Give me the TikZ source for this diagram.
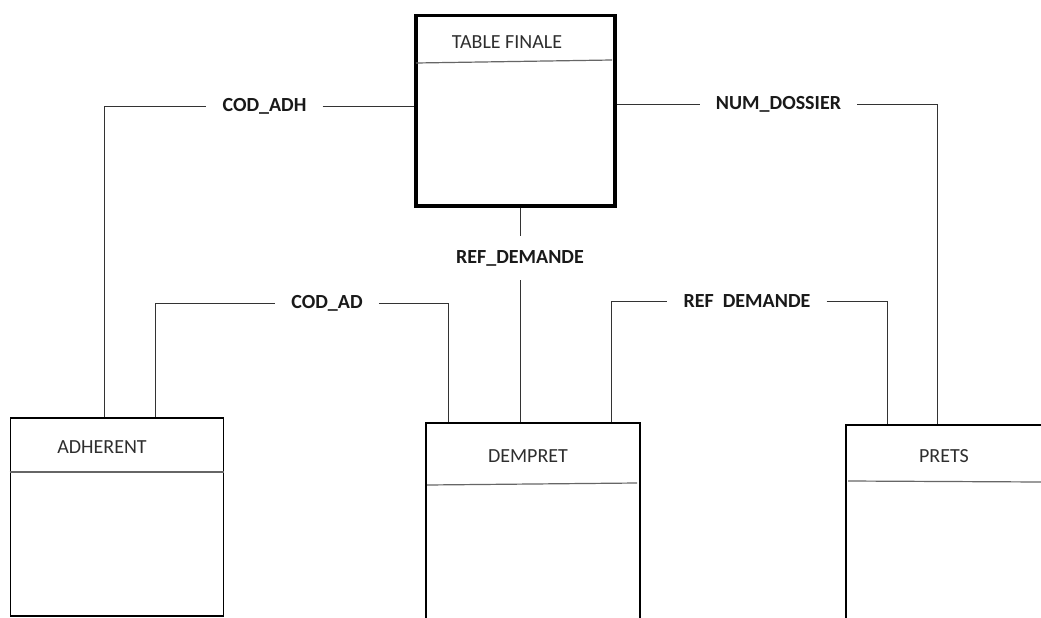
\documentclass[tikz,border=0pt]{standalone}
\usepackage{fontspec}
\setmainfont{Carlito}
\usetikzlibrary{positioning}
\definecolor{LienClr}{rgb}{0.2,0.2,0.2}
\definecolor{TitreClr}{rgb}{0.18,0.18,0.18}

\tikzset{
  table/.style={draw=black,line width=1.8pt,anchor=north west,inner sep=0pt},
  titre/.style={font=\fontsize{20}{20}\selectfont,text=TitreClr,inner sep=0pt},
  cle/.style={font=\bfseries\fontsize{20}{20}\selectfont,text=black!90,inner xsep=16pt,inner ysep=14pt},
  lien/.style={line width=1pt,draw=LienClr},
  sep/.style={line width=1.2pt,draw=black!60}
}

\begin{document}
\begin{tikzpicture}[x=1pt,y=-1pt]
\clip (0,0) rectangle (1041,618);
\fill[white] (0,0) rectangle (1041,618);

% les tables
\node[table,line width=3.5pt,minimum width=199pt,minimum height=190pt] (fin) at (414,14) {};
\node[table,minimum width=213pt,minimum height=198pt] (adh) at (9.5,417) {};
\node[table,minimum width=214pt,minimum height=250pt] (dem) at (425,422) {};
\node[table,minimum width=250pt,minimum height=250pt] (pre) at (845,424) {};

\draw[sep] (416,63) -- (612,60);
\draw[sep] (adh.west |- 0,472) -- (adh.east |- 0,472);
\draw[sep] (427,485) -- (637,483);
\draw[sep] (848,481) -- (1041,482);

\node[titre] (finT) at (507,42) {TABLE FINALE};
\node[titre] (adhT) at (102,447) {ADHERENT};
\node[titre] (demT) at (528,456) {DEMPRET};
\node[titre] (preT) at (944,456) {PRETS};

% les cles
\node[cle] (codadh) at (264.5,106) {COD\_ADH};
\node[cle] (numdos) at (778.5,104) {NUM\_DOSSIER};
\node[cle] (codad) at (327,303) {COD\_AD};
\node[cle] (refdr) at (747,301) {REF\ \ DEMANDE};
\node[cle] (refdc) at (520,258) {REF\_DEMANDE};

% les liens
\draw[lien] (adh.north -| 104,0) |- (codadh.west);
\draw[lien] (codadh.east) -- (codadh.east -| fin.west);
\draw[lien] (numdos.west -| fin.east) -- (numdos.west);
\draw[lien] (numdos.east) -| (pre.north -| 937,0);
\draw[lien] (adh.north -| 155,0) |- (codad.west);
\draw[lien] (codad.east) -| (dem.north -| 448,0);
\draw[lien] (dem.north -| 611,0) |- (refdr.west);
\draw[lien] (refdr.east) -| (pre.north -| 887,0);
\draw[lien] (fin.south -| refdc.north) -- (refdc.north);
\draw[lien] (refdc.south) -- (refdc.south |- dem.north);
\end{tikzpicture}
\end{document}
